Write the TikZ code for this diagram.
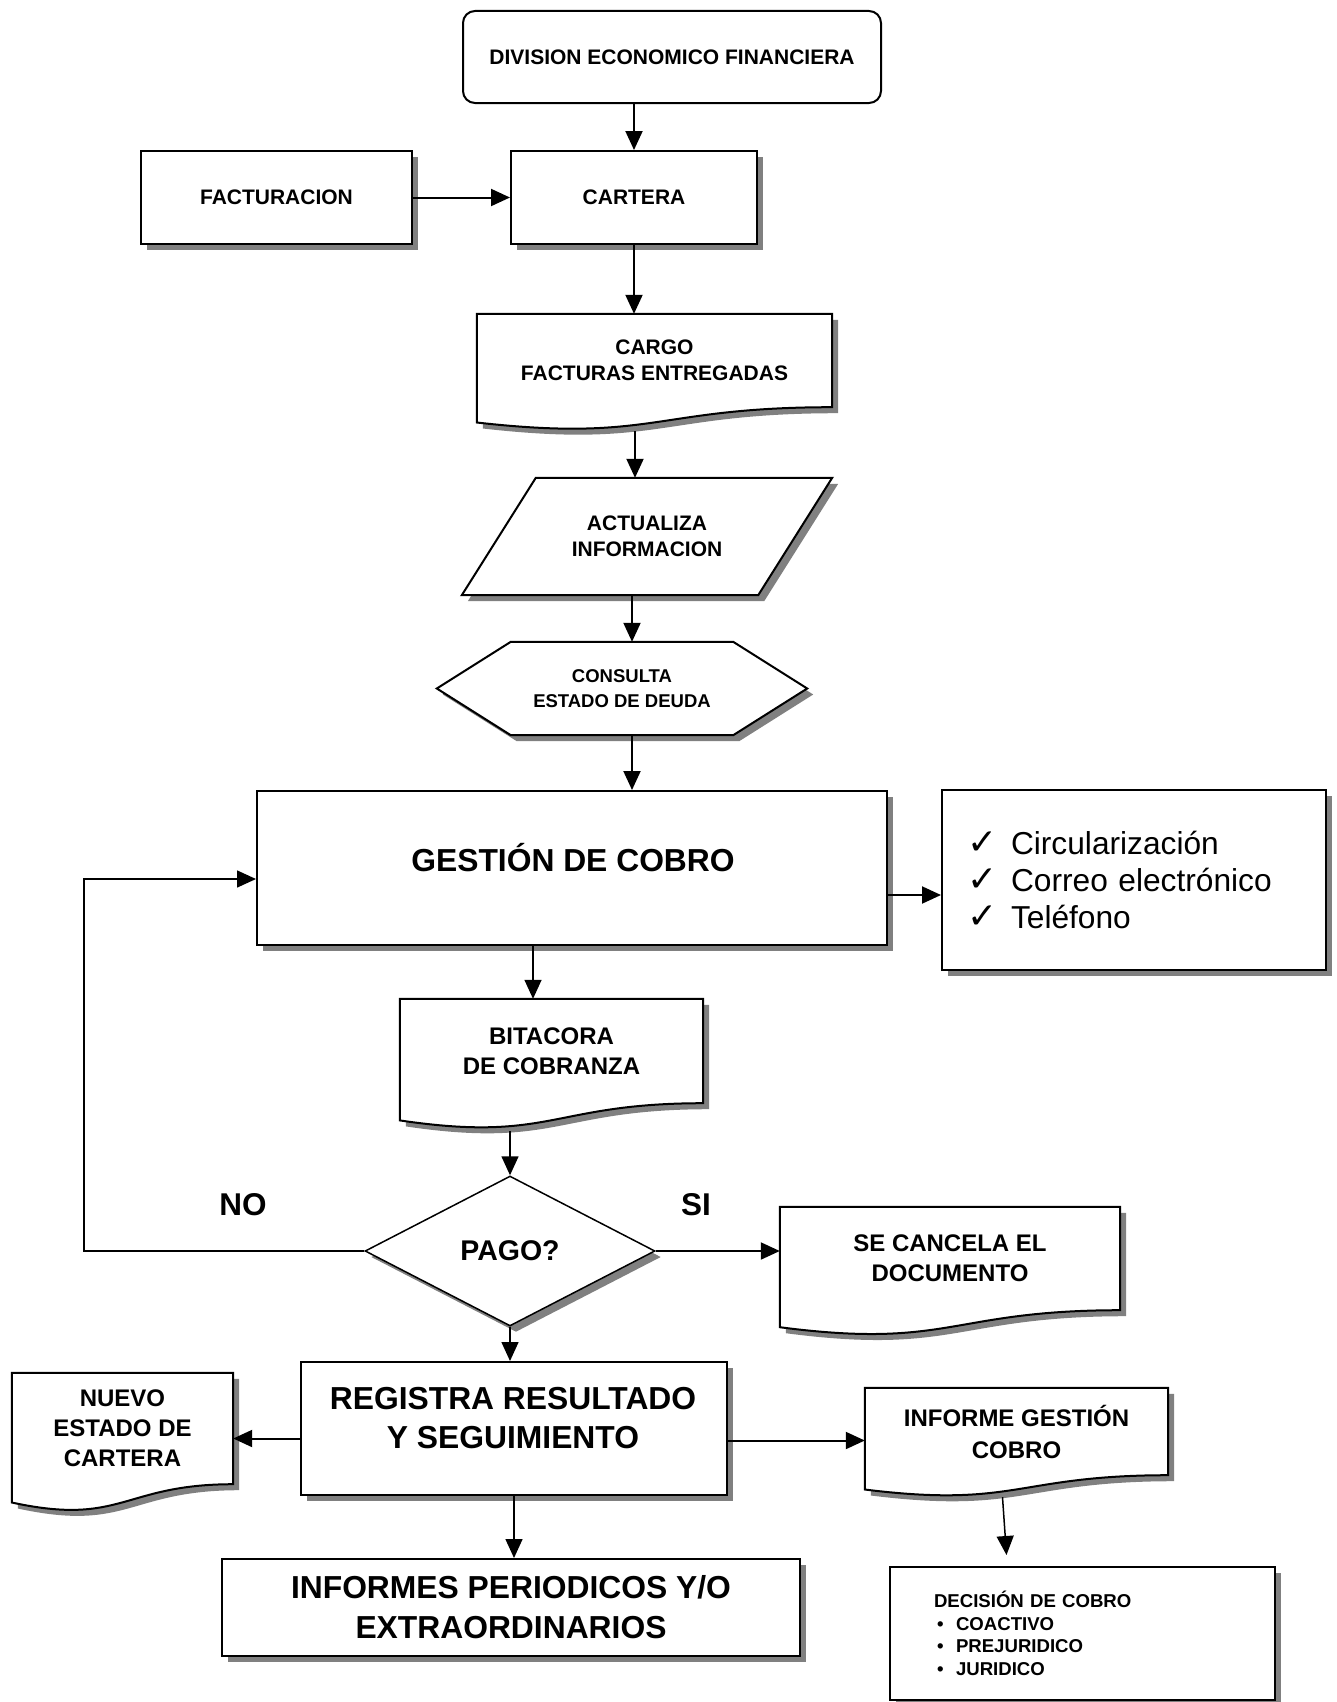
\documentclass[tikz,border=0pt]{standalone}
\usepackage{fontspec}
\setmainfont{Liberation Sans}
\newfontfamily\symfont{DejaVu Sans}
\usetikzlibrary{arrows.meta,shadows,calc,shapes.geometric}
\pgfdeclarelayer{paper}
\pgfdeclarelayer{shapes}
\pgfsetlayers{paper,shapes,main}

% document symbol (wavy bottom) drawn round a named holder node
\newcommand\docshape[3]{%
  \begin{pgfonlayer}{shapes}
    \path[outline] (#1.north west) -- (#1.north east) -- (#1.south east)
      .. controls (#1.south) and ($(#1.south)+(0,#2)$) .. ($(#1.south west)+(0,#3)$) -- cycle;
  \end{pgfonlayer}}
\newcommand\chk{\makebox[44pt][l]{\symfont\fontsize{36}{37}\selectfont ✓}}
\newcommand\bul{\hspace*{3pt}\makebox[19pt][l]{•}}

\begin{document}
\begin{tikzpicture}[x=1pt,y=-1pt,
  shade6/.style={drop shadow={shadow xshift=6pt,shadow yshift=-6pt,fill=black!50,opacity=1}},
  plain/.style={draw,line width=2pt,fill=white,inner sep=0pt,align=center},
  box/.style={plain,shade6},
  hold/.style={rectangle,inner sep=0pt,align=center},
  outline/.style={draw,line width=2pt,fill=white,shade6},
  arr/.style={line width=2pt,-{Triangle[length=19pt,width=17pt]}},
  arrthin/.style={line width=1.5pt,-{Triangle[length=19pt,width=17pt]}},
  fs/.style={font=\bfseries\fontsize{21}{26}\selectfont},
  fm/.style={font=\bfseries\fontsize{24}{30}\selectfont},
  fb/.style={font=\bfseries\fontsize{31.8}{39.5}\selectfont},
]
\begin{pgfonlayer}{paper}
  \fill[white] (0,0) rectangle (1336,1702);
\end{pgfonlayer}
\useasboundingbox (0,0) rectangle (1336,1702);

% ---- top of the chart
\node[plain,rounded corners=12pt,minimum width=418pt,minimum height=92pt,fs] (division) at (672,57) {DIVISION ECONOMICO FINANCIERA};
\node[box,minimum width=271pt,minimum height=93pt,fs] (facturacion) at (276.5,197.5) {FACTURACION};
\node[box,minimum width=246pt,minimum height=93pt,fs] (cartera) at (634,197.5) {CARTERA};

\node[hold,minimum width=355pt,minimum height=93pt,fs] (cargo) at (654.5,360.5) {CARGO\\FACTURAS ENTREGADAS};
\docshape{cargo}{35.4}{15.3}

\node[hold,minimum width=370pt,minimum height=117pt,fs] (actualiza) at (647,536.5) {ACTUALIZA\\INFORMACION};
\begin{pgfonlayer}{shapes}
  \path[outline] ($(actualiza.north west)+(74,0)$) -- (actualiza.north east)
    -- ($(actualiza.south east)+(-74,0)$) -- (actualiza.south west) -- cycle;
\end{pgfonlayer}

\node[hold,minimum width=370pt,minimum height=93pt,font=\bfseries\fontsize{18.5}{25}\selectfont] (consulta) at (622,688.5) {CONSULTA\\ESTADO DE DEUDA};
\begin{pgfonlayer}{shapes}
  \path[outline] (consulta.west) -- ($(consulta.north west)+(74,0)$) -- ($(consulta.north east)+(-74,0)$)
    -- (consulta.east) -- ($(consulta.south east)+(-74,0)$) -- ($(consulta.south west)+(74,0)$) -- cycle;
\end{pgfonlayer}

% ---- collection step
\node[box,minimum width=630pt,minimum height=154pt] (gestion) at (572,868) {};
\node[fb,align=center] (gestiontxt) at (573,858) {GESTIÓN DE COBRO};
\node[box,minimum width=384pt,minimum height=180pt,text width=334pt,align=left,
      font=\fontsize{31.7}{37}\selectfont] (lista) at (1134,880)
      {\chk Circularización\\\chk Correo electrónico\\\chk Teléfono};

\node[hold,minimum width=303pt,minimum height=104pt,fm] (bitacora) at (551.5,1051) {BITACORA\\DE COBRANZA};
\docshape{bitacora}{39.7}{17.2}

\node[diamond,draw,line width=1.5pt,fill=white,shade6,minimum width=290pt,minimum height=150pt,inner sep=0pt,
      font=\bfseries\fontsize{28.5}{34}\selectfont] (pago) at (510,1251) {PAGO?};
\node[font=\bfseries\fontsize{31.5}{36}\selectfont] (no) at (243,1205) {NO};
\node[font=\bfseries\fontsize{31.5}{36}\selectfont] (si) at (696,1205) {SI};

\node[hold,minimum width=340pt,minimum height=103pt,fm] (cancela) at (950,1258.5) {SE CANCELA EL\\DOCUMENTO};
\docshape{cancela}{39.2}{17}

% ---- results
\node[box,minimum width=426pt,minimum height=133pt] (registra) at (514,1428.5) {};
\node[fb,align=center] (registratxt) at (513,1418) {REGISTRA RESULTADO\\Y SEGUIMIENTO};

\node[hold,minimum width=221pt,minimum height=111pt,fm] (nuevo) at (122.5,1428.5) {NUEVO\\ESTADO DE\\CARTERA};
\docshape{nuevo}{42.3}{18.3}

\node[hold,minimum width=303pt,minimum height=87pt,font=\bfseries\fontsize{24}{32}\selectfont] (informe) at (1016.5,1431.5) {INFORME GESTIÓN\\COBRO};
\docshape{informe}{33.1}{14.3}

\node[box,minimum width=578pt,minimum height=97pt,font=\bfseries\fontsize{31.8}{40}\selectfont] (informes) at (511,1607.5) {INFORMES PERIODICOS Y/O\\EXTRAORDINARIOS};

\node[box,minimum width=385pt,minimum height=133pt,text width=297pt,align=left,
      font=\bfseries\fontsize{18.6}{22.5}\selectfont] (decision) at (1082.5,1633.5)
      {DECISIÓN DE COBRO\\\bul COACTIVO\\\bul PREJURIDICO\\\bul JURIDICO};

% ---- connectors
\draw[arr] (division.south -| cartera.north) -- (cartera.north);
\draw[arr] (facturacion.east) -- (cartera.west);
\draw[arr] (cartera.south) -- (cartera.south |- cargo.north);
\coordinate (cargob) at (635,431);
\draw[arr] (cargob) -- (cargob |- actualiza.north);
\coordinate (c1) at ($(actualiza.south)+(-15,0)$);
\draw[arr] (c1) -- (c1 |- consulta.north);
\coordinate (c2) at ($(consulta.south)+(10,0)$);
\draw[arr] (c2) -- (c2 |- gestion.north);
\coordinate (c3) at ($(gestion.east)+(0,27)$);
\draw[arr] (c3) -- (c3 -| lista.west);
\coordinate (c4) at ($(gestion.south)+(-39,0)$);
\draw[arrthin] (c4) -- (c4 |- bitacora.north);
\coordinate (bitb) at ($(pago.north)+(0,-44)$);
\draw[arrthin] (bitb) -- (pago.north);
\draw[arr] (pago.east) -- (pago.east -| cancela.west);
\coordinate (loop) at (84,879);
\draw[arrthin] (pago.west) -| (loop) -- (loop -| gestion.west);
\draw[arrthin] (pago.south) -- (pago.south |- registra.north);
\coordinate (c5) at ($(registra.west)+(0,10)$);
\draw[arr] (c5) -- (c5 -| nuevo.east);
\coordinate (c6) at ($(registra.east)+(0,12)$);
\draw[arr] (c6) -- (c6 -| informe.west);
\draw[arrthin] (registra.south) -- (registra.south |- informes.north);
\coordinate (infb) at ($(informe.south)+(-14,22)$);
\coordinate (decin) at ($(decision.north)+(-76,-11)$);
\draw[arrthin] (infb) -- (decin);
\end{tikzpicture}
\end{document}
